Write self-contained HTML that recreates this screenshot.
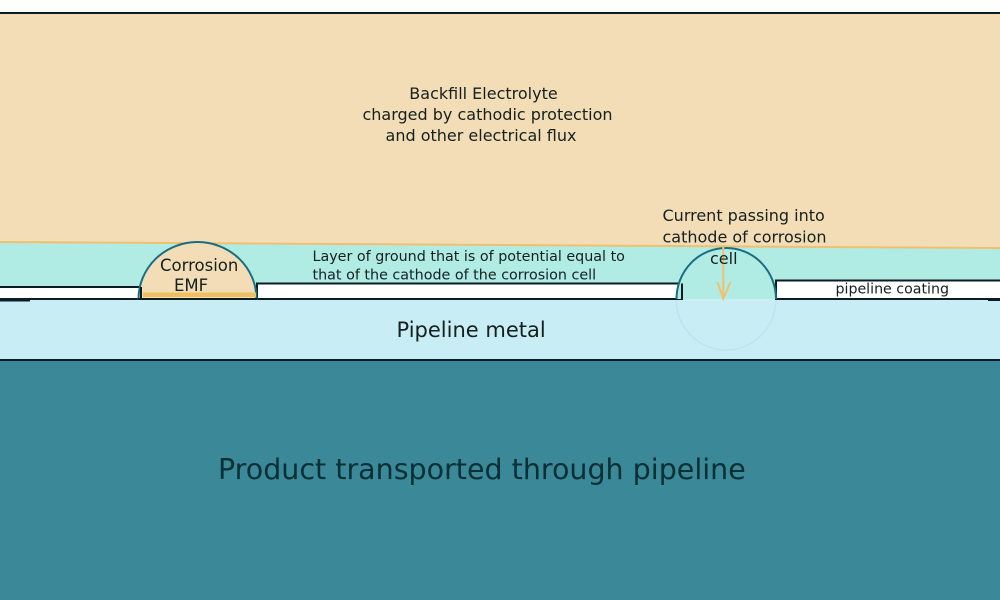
<!DOCTYPE html>
<html><head><meta charset="utf-8"><style>
html,body{margin:0;padding:0;background:#fff;}
svg{display:block;}
text{font-family:"DejaVu Sans","Liberation Sans",sans-serif;fill:#15201f;}
</style></head><body>
<svg width="1000" height="600" viewBox="0 0 1000 600" xmlns="http://www.w3.org/2000/svg">
<rect x="0" y="0" width="1000" height="600" fill="#ffffff"/>
<!-- tan backfill -->
<rect x="0" y="13" width="1000" height="240" fill="#f2ddb6"/>
<!-- cyan layer -->
<polygon points="0,242 1000,248 1000,300 0,300" fill="#b0ece4"/>
<!-- pipeline metal -->
<rect x="0" y="299" width="1000" height="60" fill="#c9edf4"/>
<!-- product -->
<rect x="0" y="360" width="1000" height="240" fill="#3a8898"/>
<!-- top line -->
<rect x="0" y="12" width="1000" height="2" fill="#0c1c22"/>
<!-- bottom of metal line -->
<rect x="0" y="359" width="1000" height="2" fill="#0c1c22"/>
<!-- boundary orange line -->
<line x1="0" y1="242" x2="1000" y2="248" stroke="#f0c070" stroke-width="2"/>

<!-- faint circle below cathode -->
<ellipse cx="726" cy="299" rx="50" ry="51" fill="none" stroke="#bfe4ee" stroke-width="1.5"/>

<!-- coatings -->
<rect x="-2" y="287" width="143" height="12" fill="#ffffff" stroke="#0c1c22" stroke-width="2"/>
<rect x="257" y="283.5" width="425" height="15.5" fill="#ffffff" stroke="#0c1c22" stroke-width="2"/>
<rect x="776" y="280.5" width="226" height="18.5" fill="#ffffff" stroke="#0c1c22" stroke-width="2"/>
<line x1="0" y1="300.5" x2="30" y2="300.5" stroke="#0c1c22" stroke-width="2"/>
<line x1="988" y1="300" x2="1000" y2="300" stroke="#0c1c22" stroke-width="2"/>

<!-- Corrosion EMF semicircle -->
<path d="M138.5,299 A59,57 0 0 1 256.5,299 Z" fill="#f2ddb6" stroke="#1b6e80" stroke-width="2"/>
<rect x="143" y="292.5" width="113" height="4.5" fill="#f0c060"/>
<line x1="141" y1="287" x2="141" y2="299" stroke="#0c1c22" stroke-width="2"/>
<line x1="138" y1="299" x2="257" y2="299" stroke="#0c1c22" stroke-width="2"/>

<!-- cathode semicircle -->
<path d="M676.5,299 A49.7,51 0 0 1 776,299" fill="#b0ece4" stroke="#1b6e80" stroke-width="2"/>
<line x1="682" y1="283.5" x2="682" y2="299" stroke="#0c1c22" stroke-width="2"/>
<!-- arrow -->
<line x1="723.3" y1="245" x2="723.3" y2="299" stroke="#f0c070" stroke-width="2"/>
<polyline points="717.3,282 723.3,298.5 730.5,282" fill="none" stroke="#f0c070" stroke-width="2"/>

<!-- texts -->
<text x="483.5" y="99" font-size="16" text-anchor="middle">Backfill Electrolyte</text>
<text x="487.5" y="120" font-size="16" text-anchor="middle">charged by cathodic protection</text>
<text x="481" y="141" font-size="16" text-anchor="middle">and other electrical flux</text>

<text x="662.5" y="221" font-size="16">Current passing into</text>
<text x="662.5" y="242.5" font-size="16">cathode of corrosion</text>
<text x="710" y="264" font-size="16">cell</text>

<text x="312.5" y="261" font-size="14.3">Layer of ground that is of potential equal to</text>
<text x="312.5" y="279.5" font-size="14.3">that of the cathode of the corrosion cell</text>

<text x="160" y="271" font-size="16.5">Corrosion</text>
<text x="174" y="291" font-size="16.5">EMF</text>

<text x="835.5" y="293.5" font-size="14.2">pipeline coating</text>

<text x="396.5" y="337" font-size="21">Pipeline metal</text>

<text x="218" y="479" font-size="28.5" style="fill:#0a3036">Product transported through pipeline</text>
</svg>
</body></html>
